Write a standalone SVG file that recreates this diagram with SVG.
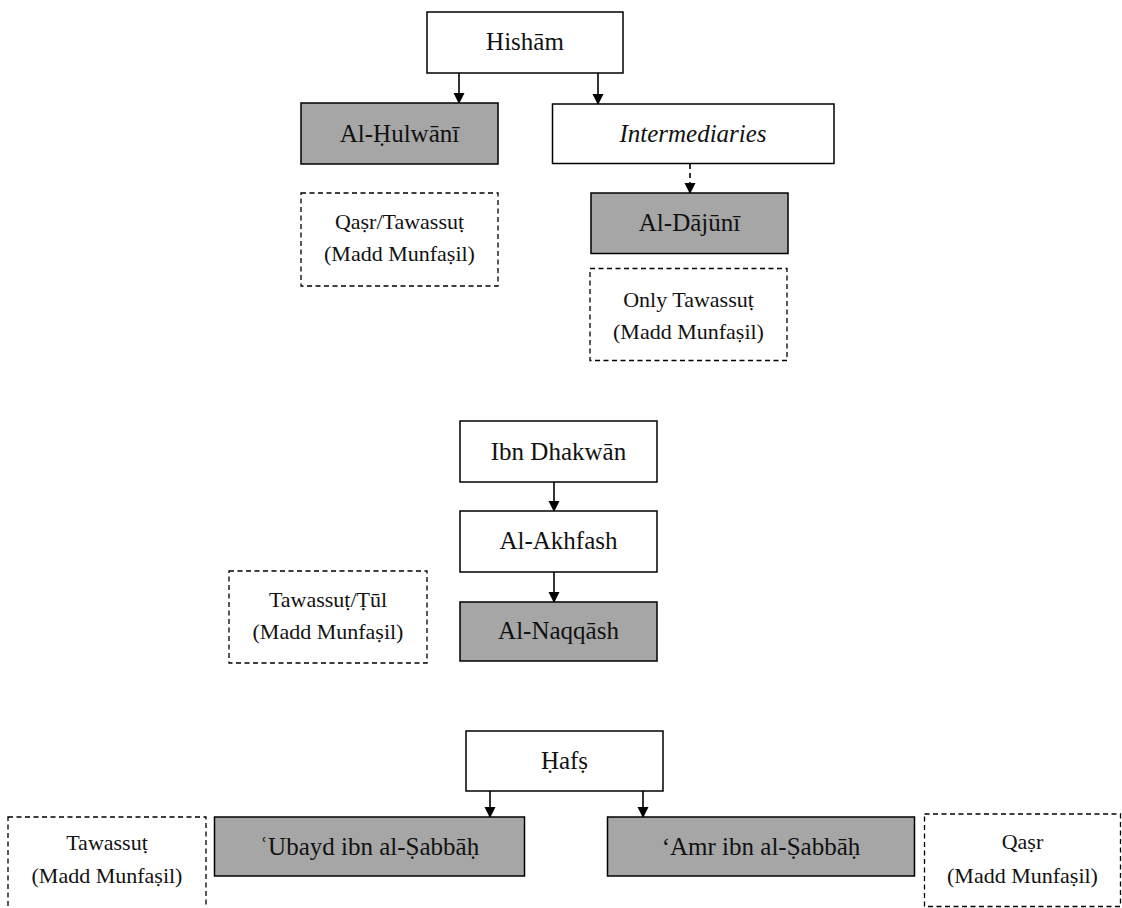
<svg xmlns="http://www.w3.org/2000/svg" width="1122" height="908" viewBox="0 0 1122 908">
<style>
  .box { fill: #ffffff; stroke: #000000; stroke-width: 1.5; }
  .grey { fill: #a6a6a6; stroke: #000000; stroke-width: 1.5; }
  .note { fill: none; stroke: #000000; stroke-width: 1.3; stroke-dasharray: 5 3.5; }
  .t { font-family: "Liberation Serif", "DejaVu Serif", serif; font-size: 25px; fill: #111111; text-anchor: middle; }
  .it { font-style: italic; }
  .n { font-family: "Liberation Serif", "DejaVu Serif", serif; font-size: 22px; fill: #111111; text-anchor: middle; }
  .c { stroke: #000000; stroke-width: 1.6; fill: none; }
  .dc { stroke: #000000; stroke-width: 1.6; fill: none; stroke-dasharray: 5 4; }
</style>
<defs>
  <marker id="ah" markerUnits="userSpaceOnUse" markerWidth="12" markerHeight="14" refX="10" refY="5.5" orient="auto">
    <path d="M0,0 L11,5.5 L0,11 Z" fill="#000000"/>
  </marker>
</defs>
<rect width="1122" height="908" fill="#ffffff"/>

<g id="connectors">
  <line class="c" x1="459" y1="73" x2="459" y2="103" marker-end="url(#ah)"/>
  <line class="c" x1="598" y1="73" x2="598" y2="104" marker-end="url(#ah)"/>
  <line class="dc" x1="690" y1="164" x2="690" y2="193" marker-end="url(#ah)"/>
  <line class="c" x1="554" y1="482" x2="554" y2="511" marker-end="url(#ah)"/>
  <line class="c" x1="554" y1="572" x2="554" y2="602" marker-end="url(#ah)"/>
  <line class="c" x1="490" y1="791" x2="490" y2="817" marker-end="url(#ah)"/>
  <line class="c" x1="643" y1="791" x2="643" y2="817" marker-end="url(#ah)"/>
</g>

<g id="hisham">
  <rect class="box" x="427" y="12" width="196" height="61"/>
  <text class="t" x="525" y="50">Hishām</text>
</g>
<g id="hulwani">
  <rect class="grey" x="301" y="103" width="197" height="61"/>
  <text class="t" x="399.5" y="141.5">Al-Ḥulwānī</text>
</g>
<g id="intermediaries">
  <rect class="box" x="552.5" y="104" width="281.5" height="59.5"/>
  <text class="t it" x="693" y="141.5">Intermediaries</text>
</g>
<g id="hulwani-note">
  <rect class="note" x="301" y="193" width="197" height="93"/>
  <text class="n" x="399.5" y="229">Qaṣr/Tawassuṭ</text>
  <text class="n" x="399.5" y="261">(Madd Munfaṣil)</text>
</g>
<g id="dajuni">
  <rect class="grey" x="591" y="193" width="197" height="60.5"/>
  <text class="t" x="689.5" y="231">Al-Dājūnī</text>
</g>
<g id="dajuni-note">
  <rect class="note" x="590" y="268.5" width="197" height="92"/>
  <text class="n" x="688.5" y="307">Only Tawassuṭ</text>
  <text class="n" x="688.5" y="339">(Madd Munfaṣil)</text>
</g>

<g id="ibn-dhakwan">
  <rect class="box" x="460" y="421" width="197" height="61"/>
  <text class="t" x="558.5" y="459.5">Ibn Dhakwān</text>
</g>
<g id="akhfash">
  <rect class="box" x="460" y="511" width="197" height="61"/>
  <text class="t" x="558.5" y="549">Al-Akhfash</text>
</g>
<g id="naqqash">
  <rect class="grey" x="460" y="602" width="197" height="59"/>
  <text class="t" x="558.5" y="639">Al-Naqqāsh</text>
</g>
<g id="naqqash-note">
  <rect class="note" x="229" y="571" width="198" height="92"/>
  <text class="n" x="328" y="607">Tawassuṭ/Ṭūl</text>
  <text class="n" x="328" y="639">(Madd Munfaṣil)</text>
</g>

<g id="hafs">
  <rect class="box" x="466" y="731" width="197" height="60"/>
  <text class="t" x="564.5" y="769">Ḥafṣ</text>
</g>
<g id="ubayd">
  <rect class="grey" x="214.5" y="817" width="310" height="59"/>
  <text class="t" x="369.5" y="854.5">ʿUbayd ibn al-Ṣabbāḥ</text>
</g>
<g id="amr">
  <rect class="grey" x="607.5" y="817" width="307" height="59"/>
  <text class="t" x="761" y="854.5">‘Amr ibn al-Ṣabbāḥ</text>
</g>
<g id="ubayd-note">
  <rect class="note" x="8" y="817" width="198" height="110"/>
  <text class="n" x="107" y="850">Tawassuṭ</text>
  <text class="n" x="107" y="883">(Madd Munfaṣil)</text>
</g>
<g id="amr-note">
  <rect class="note" x="924.5" y="814" width="196" height="92.5"/>
  <text class="n" x="1022.5" y="849">Qaṣr</text>
  <text class="n" x="1022.5" y="883">(Madd Munfaṣil)</text>
</g>
</svg>
